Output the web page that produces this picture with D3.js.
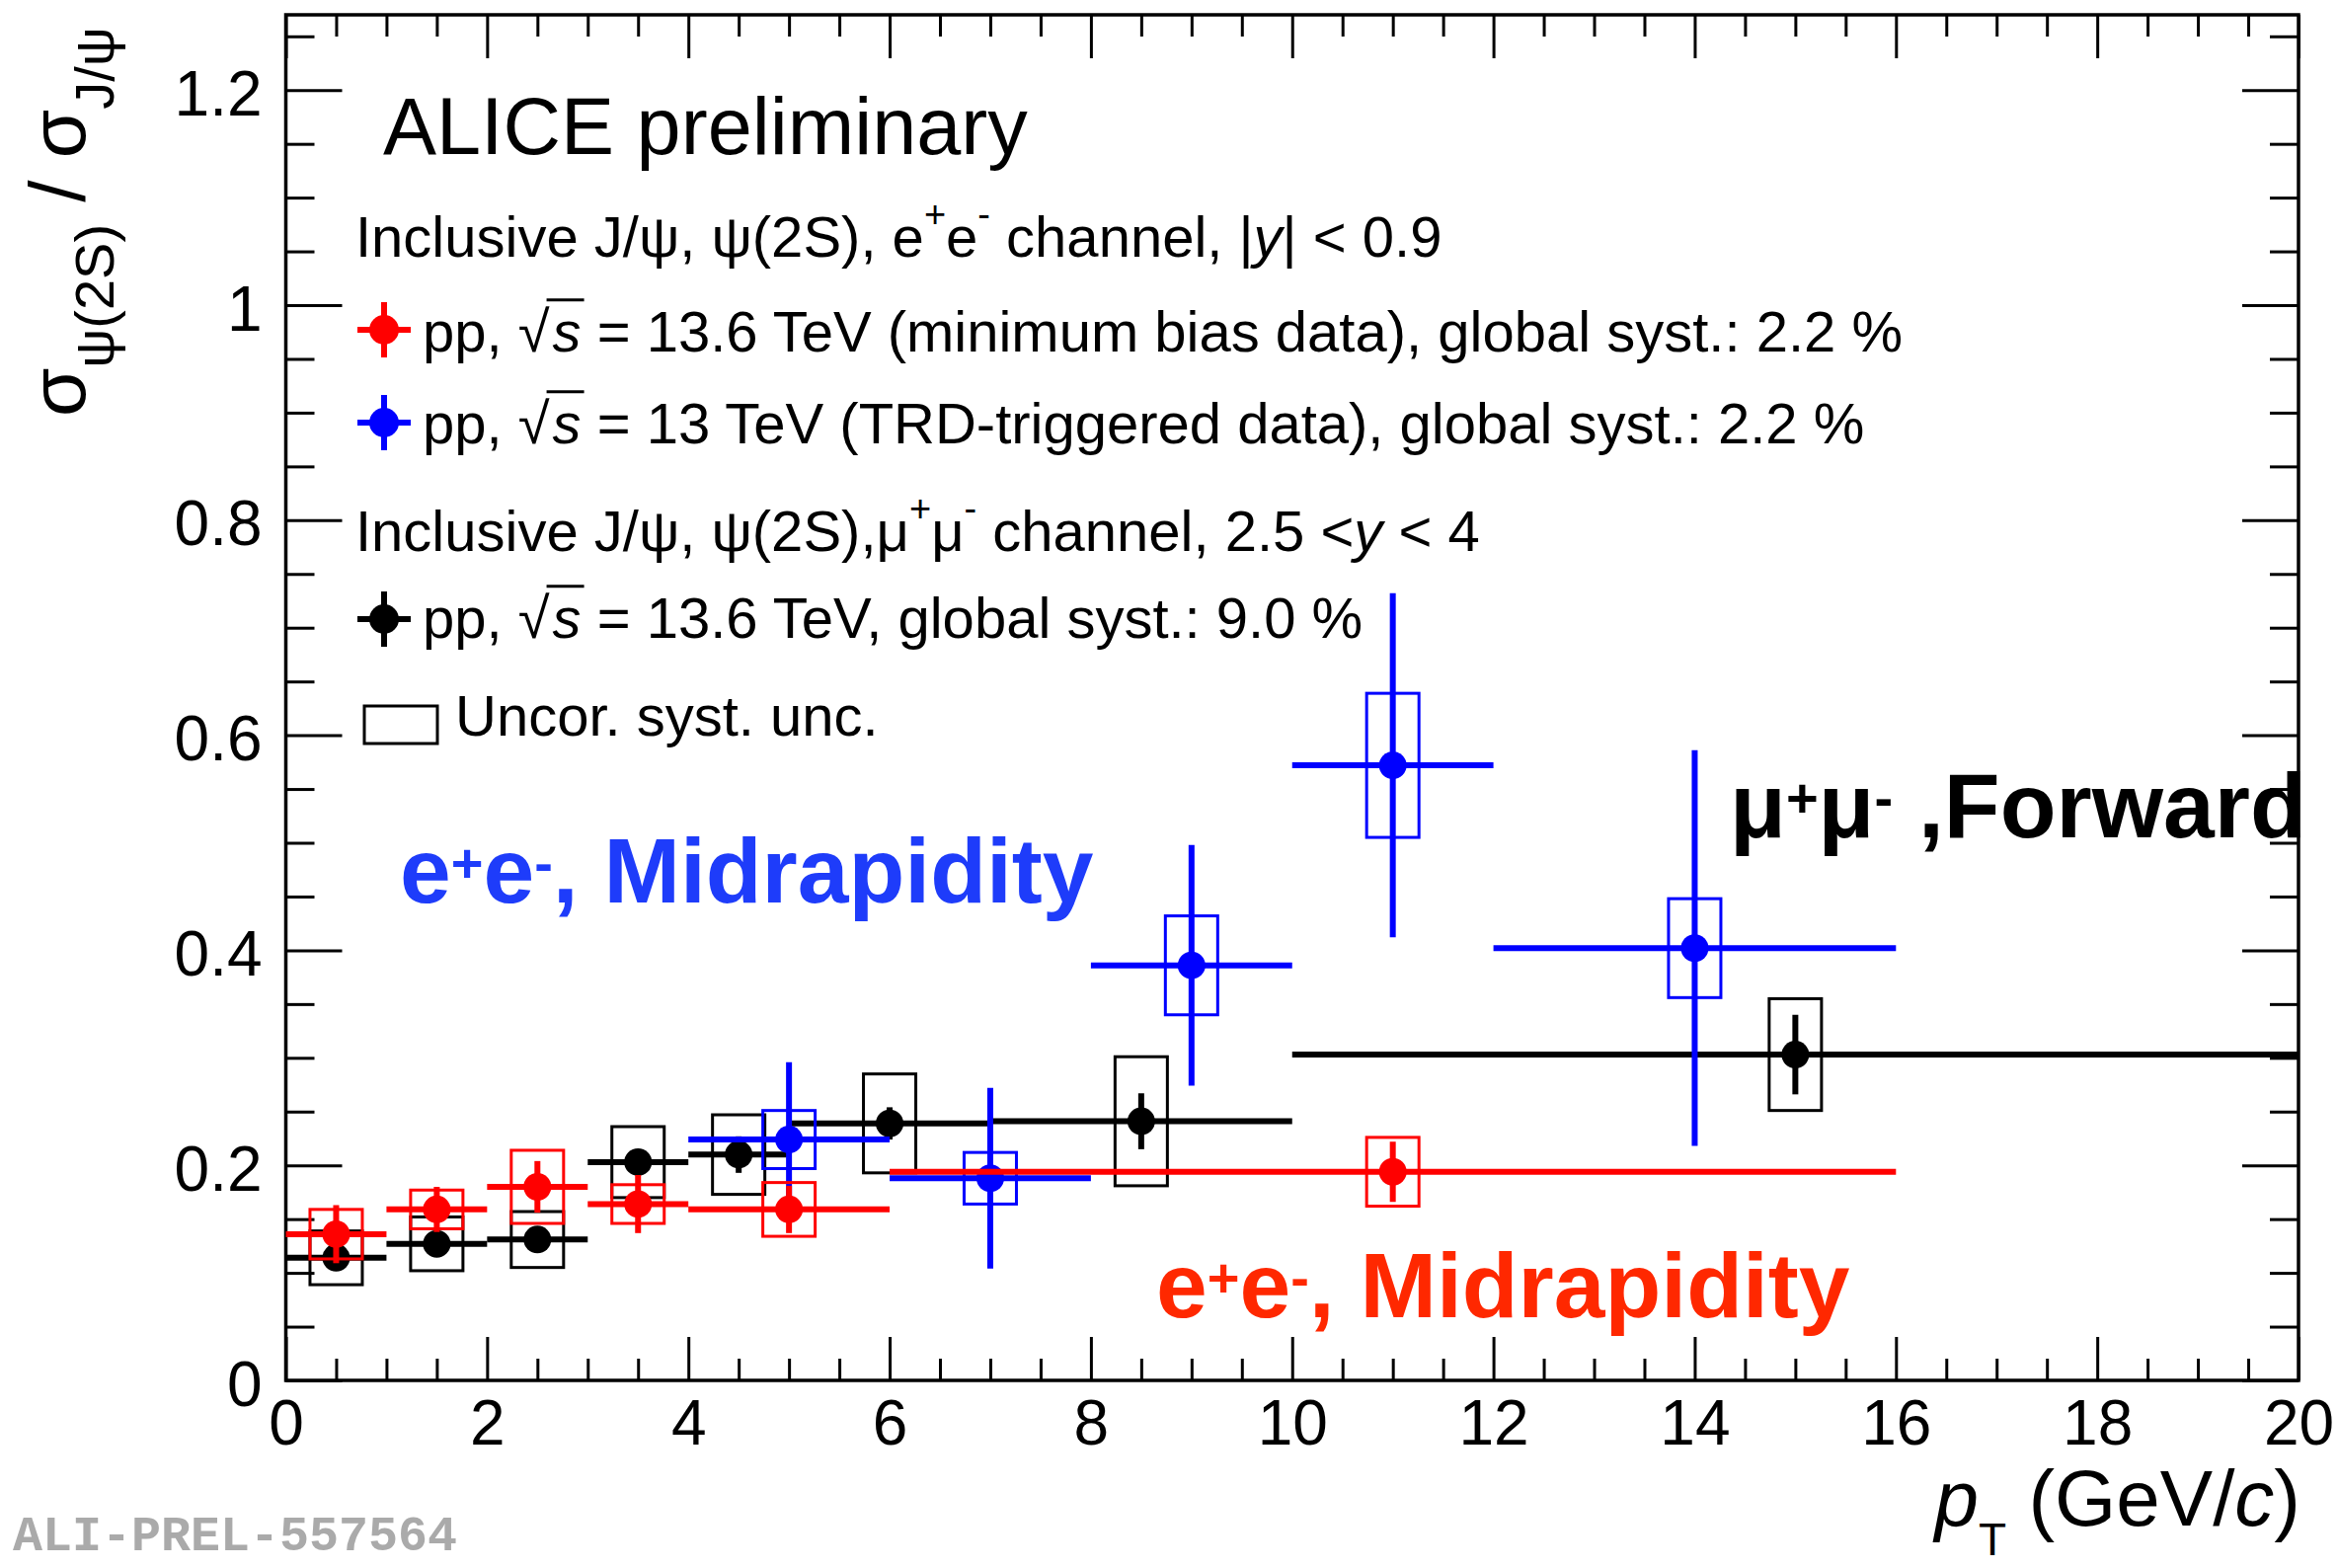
<!DOCTYPE html>
<html>
<head>
<meta charset="utf-8">
<script src="https://cdn.jsdelivr.net/npm/d3@7"></script>
<style>
  html, body { margin: 0; padding: 0; background: #fff; }
  svg { display: block; }
  text { font-family: "Liberation Sans", Arial, Helvetica, sans-serif; white-space: pre; }
  text.figid { font-family: "Liberation Mono", "DejaVu Sans Mono", monospace; }
</style>
</head>
<body>
<svg id="chart" width="2368" height="1588"></svg>
<script>
// psi(2S) / J/psi cross-section ratio versus transverse momentum

// mu+mu- channel, forward rapidity, pp 13.6 TeV
const muonLo    = [0, 1, 2, 3, 4, 5, 7, 10];
const muonHi    = [1, 2, 3, 4, 5, 7, 10, 20];
const muonPt    = [0.5, 1.5, 2.5, 3.5, 4.5, 6, 8.5, 15];
const muonRatio = [0.114, 0.127, 0.131, 0.203, 0.210, 0.239, 0.241, 0.303];
const muonStat  = [0.008, 0.009, 0.010, 0.011, 0.017, 0.015, 0.026, 0.037];
const muonSyst  = [0.025, 0.025, 0.026, 0.033, 0.037, 0.046, 0.060, 0.052];

// e+e- channel, midrapidity, pp 13 TeV (TRD-triggered)
const trdLo    = [4, 6, 8, 10, 12];
const trdHi    = [6, 8, 10, 12, 16];
const trdPt    = [5, 7, 9, 11, 14];
const trdRatio = [0.224, 0.188, 0.386, 0.572, 0.402];
const trdStat  = [0.072, 0.084, 0.112, 0.160, 0.184];
const trdSyst  = [0.027, 0.024, 0.046, 0.067, 0.046];

// e+e- channel, midrapidity, pp 13.6 TeV (minimum bias)
const mbLo    = [0, 1, 2, 3, 4, 6];
const mbHi    = [1, 2, 3, 4, 6, 16];
const mbPt    = [0.5, 1.5, 2.5, 3.5, 5, 11];
const mbRatio = [0.136, 0.159, 0.180, 0.164, 0.159, 0.194];
const mbStat  = [0.027, 0.021, 0.024, 0.027, 0.022, 0.028];
const mbSyst  = [0.023, 0.018, 0.034, 0.018, 0.025, 0.032];

// axis ticks
const xMajorTicks = [0, 2, 4, 6, 8, 10, 12, 14, 16, 18, 20];
const xTickLabels = ["0", "2", "4", "6", "8", "10", "12", "14", "16", "18", "20"];
const yMajorTicks = [0, 0.2, 0.4, 0.6, 0.8, 1.0, 1.2];
const yTickLabels = ["0", "0.2", "0.4", "0.6", "0.8", "1", "1.2"];

const RED = "#ff0000", BLUE = "#0000ff", BLACK = "#000000";
const FONT = '"Liberation Sans", Arial, Helvetica, sans-serif';

const svg = d3.select("#chart");
const L = 289.5, R = 2328, T = 15, B = 1398;

const x = d3.scaleLinear().domain([0, 20]).range([L, R]);
const y = d3.scaleLinear().domain([0, 1.27]).range([B, T]);

const xMinor = d3.range(0, 20.001, 0.5).filter(v => Math.abs(v / 2 - Math.round(v / 2)) > 1e-6);
const yMinor = d3.range(0, 1.2701, 0.05).filter(v => Math.abs(v / 0.2 - Math.round(v / 0.2)) > 1e-6);

function styleAxis(g) {
  g.select(".domain").remove();
  g.selectAll("line").attr("stroke", "#000").attr("stroke-width", 3);
  g.attr("font-family", FONT);
}

// bottom axis with labels
svg.append("g").attr("transform", `translate(0,${B})`)
  .call(d3.axisBottom(x).tickValues(xMajorTicks).tickSize(-44).tickSizeOuter(0)
        .tickFormat((d, i) => xTickLabels[i]))
  .call(styleAxis)
  .call(g => g.selectAll("text").attr("font-size", 64).attr("fill", "#000")
        .attr("dy", null).attr("y", 65));
svg.append("g").attr("transform", `translate(0,${B})`)
  .call(d3.axisBottom(x).tickValues(xMinor).tickSize(-22).tickSizeOuter(0).tickFormat(""))
  .call(styleAxis);
// top axis (mirrored ticks)
svg.append("g").attr("transform", `translate(0,${T})`)
  .call(d3.axisTop(x).tickValues(xMajorTicks).tickSize(-44).tickSizeOuter(0).tickFormat(""))
  .call(styleAxis);
svg.append("g").attr("transform", `translate(0,${T})`)
  .call(d3.axisTop(x).tickValues(xMinor).tickSize(-22).tickSizeOuter(0).tickFormat(""))
  .call(styleAxis);
// left axis with labels
svg.append("g").attr("transform", `translate(${L},0)`)
  .call(d3.axisLeft(y).tickValues(yMajorTicks).tickSize(-57).tickSizeOuter(0)
        .tickFormat((d, i) => yTickLabels[i]))
  .call(styleAxis)
  .call(g => g.selectAll("text").attr("font-size", 64).attr("fill", "#000")
        .attr("dy", null).attr("y", 25).attr("x", -24));
svg.append("g").attr("transform", `translate(${L},0)`)
  .call(d3.axisLeft(y).tickValues(yMinor).tickSize(-29).tickSizeOuter(0).tickFormat(""))
  .call(styleAxis);
// right axis (mirrored ticks)
svg.append("g").attr("transform", `translate(${R},0)`)
  .call(d3.axisRight(y).tickValues(yMajorTicks).tickSize(-57).tickSizeOuter(0).tickFormat(""))
  .call(styleAxis);
svg.append("g").attr("transform", `translate(${R},0)`)
  .call(d3.axisRight(y).tickValues(yMinor).tickSize(-29).tickSizeOuter(0).tickFormat(""))
  .call(styleAxis);

// frame
svg.append("rect").attr("x", L).attr("y", T).attr("width", R - L).attr("height", B - T)
  .attr("fill", "none").attr("stroke", "#000").attr("stroke-width", 3.5);

// data series: syst boxes, bin-width bars, stat bars, markers
const BOX_HALF = 0.26;
function drawSeries(lo, hi, pt, val, stat, syst, color) {
  const g = svg.append("g");
  const idx = d3.range(pt.length);
  g.selectAll("rect.sys").data(idx).join("rect")
    .attr("x", i => x(pt[i] - BOX_HALF))
    .attr("width", i => x(pt[i] + BOX_HALF) - x(pt[i] - BOX_HALF))
    .attr("y", i => y(val[i] + syst[i]))
    .attr("height", i => y(val[i] - syst[i]) - y(val[i] + syst[i]))
    .attr("fill", "none").attr("stroke", color).attr("stroke-width", 3);
  g.selectAll("line.xerr").data(idx).join("line")
    .attr("x1", i => x(lo[i])).attr("x2", i => x(hi[i]))
    .attr("y1", i => y(val[i])).attr("y2", i => y(val[i]))
    .attr("stroke", color).attr("stroke-width", 6);
  g.selectAll("line.yerr").data(idx).join("line")
    .attr("x1", i => x(pt[i])).attr("x2", i => x(pt[i]))
    .attr("y1", i => y(val[i] + stat[i])).attr("y2", i => y(val[i] - stat[i]))
    .attr("stroke", color).attr("stroke-width", 6);
  g.selectAll("circle").data(idx).join("circle")
    .attr("cx", i => x(pt[i])).attr("cy", i => y(val[i])).attr("r", 14)
    .attr("fill", color);
}
drawSeries(muonLo, muonHi, muonPt, muonRatio, muonStat, muonSyst, BLACK);
drawSeries(trdLo, trdHi, trdPt, trdRatio, trdStat, trdSyst, BLUE);
drawSeries(mbLo, mbHi, mbPt, mbRatio, mbStat, mbSyst, RED);

// text made of runs (superscripts, italics, radical overline)
function rich(x0, yb, parts, base) {
  const g = svg.append("g");
  let cx = x0;
  let prevEnd = x0;
  parts.forEach(p => {
    const size = p.size || base.size;
    const t = g.append("text")
      .attr("x", cx).attr("y", yb + (p.dy || 0))
      .attr("xml:space", "preserve")
      .attr("font-size", size)
      .attr("font-weight", p.weight || base.weight || "normal")
      .attr("font-style", p.italic ? "italic" : "normal")
      .attr("fill", base.fill || "#000")
      .text(p.t);
    const w = t.node().getComputedTextLength();
    if (p.over) {
      g.append("line")
        .attr("x1", prevEnd - 3).attr("x2", cx + w + 3)
        .attr("y1", yb - base.size * 0.9).attr("y2", yb - base.size * 0.9)
        .attr("stroke", base.fill || "#000").attr("stroke-width", 3);
    }
    prevEnd = cx + w;
    cx += w + (p.gap || 0);
  });
  return g;
}

// legend marker: filled circle with error cross
function legendMarker(cx, cy, color) {
  const g = svg.append("g");
  g.append("line").attr("x1", cx - 27).attr("x2", cx + 27).attr("y1", cy).attr("y2", cy)
    .attr("stroke", color).attr("stroke-width", 6);
  g.append("line").attr("x1", cx).attr("x2", cx).attr("y1", cy - 28).attr("y2", cy + 28)
    .attr("stroke", color).attr("stroke-width", 6);
  g.append("circle").attr("cx", cx).attr("cy", cy).attr("r", 15).attr("fill", color);
}

// header
svg.append("text").attr("x", 388).attr("y", 156).attr("font-size", 81).attr("fill", "#000")
  .text("ALICE preliminary");

const LS = 58;
const SUP = { size: 38, dy: -30 };
rich(360, 260, [
  { t: "Inclusive J/ψ, ψ(2S), e" }, { t: "+", ...SUP }, { t: "e" }, { t: "-", ...SUP },
  { t: " channel, |" }, { t: "y", italic: true }, { t: "| < 0.9" }
], { size: LS });

legendMarker(389, 334, RED);
rich(428, 356, [
  { t: "pp, √", gap: 3 }, { t: "s", italic: true, over: true },
  { t: " = 13.6 TeV (minimum bias data), global syst.: 2.2 %" }
], { size: LS });

legendMarker(389, 428, BLUE);
rich(428, 449, [
  { t: "pp, √", gap: 3 }, { t: "s", italic: true, over: true },
  { t: " = 13 TeV (TRD-triggered data), global syst.: 2.2 %" }
], { size: LS });

rich(360, 558, [
  { t: "Inclusive J/ψ, ψ(2S),μ" }, { t: "+", ...SUP }, { t: "μ" }, { t: "-", ...SUP },
  { t: " channel, 2.5 <" }, { t: "y", italic: true }, { t: " < 4" }
], { size: LS });

legendMarker(389, 627, BLACK);
rich(428, 646, [
  { t: "pp, √", gap: 3 }, { t: "s", italic: true, over: true },
  { t: " = 13.6 TeV, global syst.: 9.0 %" }
], { size: LS });

svg.append("rect").attr("x", 369).attr("y", 715).attr("width", 74).attr("height", 38)
  .attr("fill", "none").attr("stroke", "#000").attr("stroke-width", 3);
rich(461, 745, [{ t: "Uncor. syst. unc." }], { size: LS });

// channel labels
const BIG = 93;
const BSUP = { size: 56, dy: -21 };
rich(405, 914, [
  { t: "e" }, { t: "+", ...BSUP }, { t: "e" }, { t: "-", ...BSUP }, { t: ", Midrapidity" }
], { size: BIG, weight: "bold", fill: "#1e3cfa" });
rich(1752, 848, [
  { t: "μ" }, { t: "+", ...BSUP }, { t: "μ" }, { t: "-", ...BSUP }, { t: " ,Forward" }
], { size: BIG, weight: "bold", fill: "#000" });
rich(1171, 1334, [
  { t: "e" }, { t: "+", ...BSUP }, { t: "e" }, { t: "-", ...BSUP }, { t: ", Midrapidity" }
], { size: BIG, weight: "bold", fill: "#ff2800" });

// y-axis title
const yTitle = svg.append("text")
  .attr("transform", "translate(86,422) rotate(-90)")
  .attr("font-size", 80).attr("fill", "#000");
yTitle.append("tspan").text("σ");
yTitle.append("tspan").attr("font-size", 56).attr("dy", 29).text("ψ(2S)");
yTitle.append("tspan").attr("dy", -29).text(" / σ");
yTitle.append("tspan").attr("font-size", 56).attr("dy", 29).text("J/ψ");

// x-axis title
const xTitle = svg.append("text")
  .attr("x", 2330).attr("y", 1545).attr("text-anchor", "end")
  .attr("font-size", 80).attr("fill", "#000");
xTitle.append("tspan").attr("font-style", "italic").text("p");
xTitle.append("tspan").attr("font-size", 46).attr("dy", 30).text("T");
xTitle.append("tspan").attr("dy", -30).text(" (GeV/");
xTitle.append("tspan").attr("font-style", "italic").text("c");
xTitle.append("tspan").text(")");

// figure id
svg.append("text").attr("class", "figid").attr("x", 13).attr("y", 1570)
  .attr("font-weight", "bold").attr("font-size", 50).attr("fill", "#aaaaaa")
  .text("ALI-PREL-557564");
</script>
</body>
</html>
